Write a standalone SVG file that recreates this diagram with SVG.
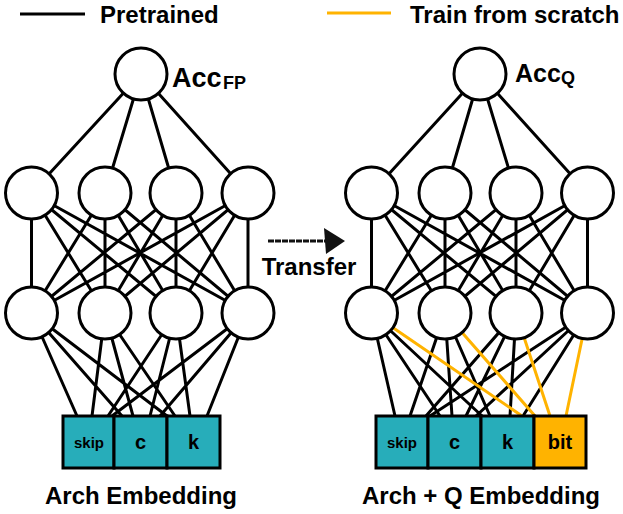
<svg xmlns="http://www.w3.org/2000/svg" width="623" height="514" viewBox="0 0 623 514">
<style>
.t{font-family:"Liberation Sans",Arial,Helvetica,sans-serif;font-weight:bold;fill:#000}
.k{stroke:#000;stroke-width:3;fill:none}
.o{stroke:#FFB300;stroke-width:3;fill:none}
.n{fill:#fff;stroke:#000;stroke-width:3}
.teal{fill:#27ADBA;stroke:#000;stroke-width:3}
.org{fill:#FFB300;stroke:#000;stroke-width:3}
</style>
<rect width="623" height="514" fill="#fff"/>
<g id="legend">
<line x1="20" y1="14" x2="85" y2="14" class="k"/>
<text x="100" y="23" class="t" font-size="24">Pretrained</text>
<line x1="327" y1="13" x2="391" y2="13" class="o"/>
<text x="410" y="23" class="t" font-size="24">Train from scratch</text>
</g>
<g id="connectors">
<path class="k" d="M141,74L31.5,193M141,74L105,193M141,74L176,193M141,74L248,193"/>
<path class="k" d="M31.5,193L31.5,313M31.5,193L105,313M31.5,193L176,313M31.5,193L248,313
M105,193L31.5,313M105,193L105,313M105,193L176,313M105,193L248,313
M176,193L31.5,313M176,193L105,313M176,193L176,313M176,193L248,313
M248,193L31.5,313M248,193L105,313M248,193L176,313M248,193L248,313"/>
<path class="k" d="M31.5,313L77,416M31.5,313L122,416M31.5,313L167,416
M105,313L92,416M105,313L133,416M105,313L175,416
M176,313L108,416M176,313L150,416M176,313L190,416
M248,313L112,416M248,313L160,416M248,313L207,416"/>
<path class="k" d="M480,74L371.5,193M480,74L445,193M480,74L516,193M480,74L587.5,193"/>
<path class="k" d="M371.5,193L371.5,313M371.5,193L445,313M371.5,193L516,313M371.5,193L587.5,313
M445,193L371.5,313M445,193L445,313M445,193L516,313M445,193L587.5,313
M516,193L371.5,313M516,193L445,313M516,193L516,313M516,193L587.5,313
M587.5,193L371.5,313M587.5,193L445,313M587.5,193L516,313M587.5,193L587.5,313"/>
<path class="k" d="M371.5,313L395,416M371.5,313L440,416M371.5,313L482,416
M445,313L410,416M445,313L452,416M445,313L490,416
M516,313L426,416M516,313L466,416M516,313L510,416
M587.5,313L430,416M587.5,313L476,416M587.5,313L523,416"/>
<path class="o" d="M371.5,313L522,416M445,313L535,416M516,313L550,416M587.5,313L566,416"/>
<line x1="268" y1="241" x2="328" y2="241" stroke="#111" stroke-width="3" stroke-dasharray="6 1"/>
<polygon points="324,228 345,241 326,254" fill="#111"/>
</g>
<g id="left-top"><circle cx="141" cy="74" r="26" class="n"/></g>
<g id="left-h1-1"><circle cx="31.5" cy="193" r="26" class="n"/></g>
<g id="left-h1-2"><circle cx="105" cy="193" r="26" class="n"/></g>
<g id="left-h1-3"><circle cx="176" cy="193" r="26" class="n"/></g>
<g id="left-h1-4"><circle cx="248" cy="193" r="26" class="n"/></g>
<g id="left-h2-1"><circle cx="31.5" cy="313" r="26" class="n"/></g>
<g id="left-h2-2"><circle cx="105" cy="313" r="26" class="n"/></g>
<g id="left-h2-3"><circle cx="176" cy="313" r="26" class="n"/></g>
<g id="left-h2-4"><circle cx="248" cy="313" r="26" class="n"/></g>
<g id="right-top"><circle cx="480" cy="74" r="26" class="n"/></g>
<g id="right-h1-1"><circle cx="371.5" cy="193" r="26" class="n"/></g>
<g id="right-h1-2"><circle cx="445" cy="193" r="26" class="n"/></g>
<g id="right-h1-3"><circle cx="516" cy="193" r="26" class="n"/></g>
<g id="right-h1-4"><circle cx="587.5" cy="193" r="26" class="n"/></g>
<g id="right-h2-1"><circle cx="371.5" cy="313" r="26" class="n"/></g>
<g id="right-h2-2"><circle cx="445" cy="313" r="26" class="n"/></g>
<g id="right-h2-3"><circle cx="516" cy="313" r="26" class="n"/></g>
<g id="right-h2-4"><circle cx="587.5" cy="313" r="26" class="n"/></g>
<g id="labels">
<text x="172" y="87" class="t" font-size="27">Acc</text>
<text x="223" y="89" class="t" font-size="18">FP</text>
<text x="515" y="82" class="t" font-size="25">Acc</text>
<text x="561" y="84" class="t" font-size="18">Q</text>
<text x="309" y="275" class="t" font-size="24" text-anchor="middle">Transfer</text>
<text x="141" y="504" class="t" font-size="24" text-anchor="middle">Arch Embedding</text>
<text x="481" y="504" class="t" font-size="24" text-anchor="middle">Arch + Q Embedding</text>
</g>
<g id="left-embed">
<rect x="63" y="416" width="51" height="52" class="teal"/>
<rect x="114" y="416" width="53" height="52" class="teal"/>
<rect x="167" y="416" width="53" height="52" class="teal"/>
<text x="89" y="448" class="t" font-size="15" text-anchor="middle">skip</text>
<text x="140.5" y="449" class="t" font-size="20" text-anchor="middle">c</text>
<text x="193.5" y="449" class="t" font-size="20" text-anchor="middle">k</text>
</g>
<g id="right-embed">
<rect x="376" y="416" width="52" height="52" class="teal"/>
<rect x="428" y="416" width="53" height="52" class="teal"/>
<rect x="481" y="416" width="53" height="52" class="teal"/>
<rect x="534" y="416" width="52" height="52" class="org"/>
<text x="402" y="448" class="t" font-size="15" text-anchor="middle">skip</text>
<text x="454.5" y="449" class="t" font-size="20" text-anchor="middle">c</text>
<text x="507.5" y="449" class="t" font-size="20" text-anchor="middle">k</text>
<text x="560" y="449" class="t" font-size="20" text-anchor="middle">bit</text>
</g>
</svg>
